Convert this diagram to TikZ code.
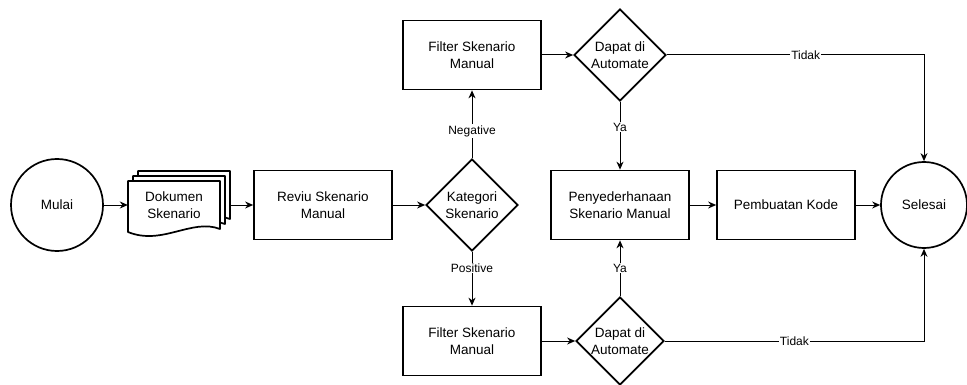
\documentclass[tikz,border=0pt]{standalone}
\usepackage{fontspec}
\setmainfont{Liberation Sans}
\usepackage{tikz}
\usetikzlibrary{shapes.geometric,arrows.meta}

\begin{document}
\begin{tikzpicture}[x=1pt,y=-1pt,
        font=\fontsize{13.5}{17}\selectfont,
        box/.style={draw, line width=1.7pt, minimum width=138pt, minimum height=69pt, align=center, inner sep=2pt},
        decision/.style={draw, diamond, line width=1.7pt, minimum width=92pt, minimum height=92pt, inner sep=0pt, align=center},
        terminal/.style={draw, circle, line width=1.7pt, inner sep=0pt},
        docpage/.style={draw, fill=white, line width=1.7pt, line join=round},
        flow/.style={-{Stealth[length=8pt,width=7pt]}, line width=1pt},
        lbl/.style={fill=white, inner sep=1pt, font=\fontsize{12}{14}\selectfont}]
        \useasboundingbox (0,0) rectangle (967,385);
        % Start and end
        \node[terminal, minimum size=92pt] (mulai) at (57,205) {Mulai};
        \node[terminal, minimum size=86pt] (selesai) at (924,205) {Selesai};
        % Stacked document pages
        \foreach \d in {10,5,0} {
            \begin{scope}[shift={(\d,-\d)}]
                \draw[docpage] (128,181) -- (220,181) -- (220,229) .. controls (192,218) and (162,246) .. (128,232) -- cycle;
            \end{scope}
        }
        \node[align=center, minimum width=92pt, minimum height=50pt, inner sep=0pt] (dok) at (174,205) {Dokumen\\Skenario};
        \coordinate (dokout) at (230,205);
        % Process steps
        \node[box] (reviu) at (323,205) {Reviu Skenario\\Manual};
        \node[decision] (kategori) at (472,205) {Kategori\\Skenario};
        \node[box] (filtA) at (472,55) {Filter Skenario\\Manual};
        \node[decision] (dapatA) at (620,55) {Dapat di\\Automate};
        \node[box] (filtB) at (472,341) {Filter Skenario\\Manual};
        \node[decision, minimum width=88pt, minimum height=88pt] (dapatB) at (620,341) {Dapat di\\Automate};
        \node[box] (sederhana) at (620,205) {Penyederhanaan\\Skenario Manual};
        \node[box] (kode) at (786,205) {Pembuatan Kode};
        % Connectors
        \draw[flow] (mulai.east) -- (mulai.east -| dok.west);
        \draw[flow] (dokout) -- (reviu);
        \draw[flow] (reviu) -- (kategori);
        \draw[flow] (kategori) -- node[lbl, pos=0.4] {Negative} (filtA);
        \draw[flow] (kategori) -- node[lbl, pos=0.3] {Positive} (filtB);
        \draw[flow] (filtA) -- (dapatA);
        \draw[flow] (filtB) -- (dapatB);
        \draw[flow] (dapatA) -- node[lbl, pos=0.37] {Ya} (sederhana);
        \draw[flow] (dapatB) -- node[lbl, pos=0.5] {Ya} (sederhana);
        \draw[flow] (sederhana) -- (kode);
        \draw[flow] (kode) -- (selesai);
        \draw[flow] (dapatA) -| node[lbl, pos=0.27] {Tidak} (selesai);
        \draw[flow] (dapatB) -| node[lbl, pos=0.25] {Tidak} (selesai);
    \end{tikzpicture}
\end{document}
